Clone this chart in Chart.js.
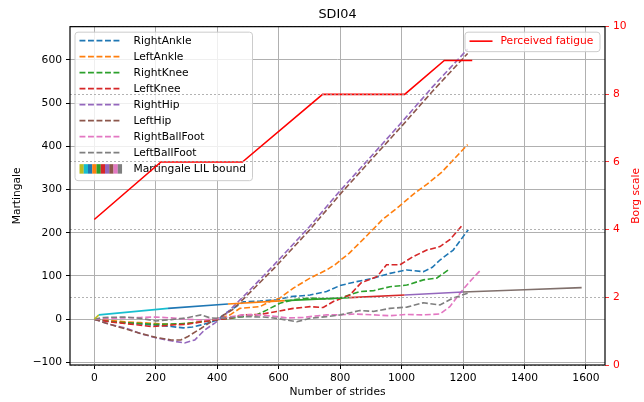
<!DOCTYPE html>
<html>
<head>
<meta charset="utf-8">
<script src="https://cdn.jsdelivr.net/npm/chart.js@4/dist/chart.umd.min.js"></script>
<style>
  html, body { margin: 0; padding: 0; background: #fff; }
</style>
</head>
<body>
<canvas id="c" width="644" height="402"></canvas>
<script>
// tick labels
const xTicks = [0, 200, 400, 600, 800, 1000, 1200, 1400, 1600];
const martTicks = [-100, 0, 100, 200, 300, 400, 500, 600];
const borgTicks = [0, 2, 4, 6, 8, 10];

// series names (legend order)
const seriesNames = ['RightAnkle', 'LeftAnkle', 'RightKnee', 'LeftKnee', 'RightHip', 'LeftHip', 'RightBallFoot', 'LeftBallFoot'];

// [strides, martingale]
const rightAnkle = [[0,0],[50,-5],[100,-8],[150,-11],[200,-14],[250,-17],[290,-20],[320,-18],[350,-13],[400,-2],[430,15],[452,25],[485,40],[539,42],[594,45],[637,52],[702,56],[756,64],[800,78],[854,87],[908,95],[962,106],[1017,114],[1071,110],[1100,120],[1125,137],[1168,160],[1217,207]];
const leftAnkle = [[0,0],[50,-3],[100,-6],[150,-8],[200,-10],[250,-12],[300,-10],[350,-5],[400,0],[442,10],[474,25],[507,27],[539,29],[572,41],[604,49],[648,72],[702,95],[756,114],[783,126],[830,153],[884,191],[937,230],[992,261],[1040,290],[1082,312],[1129,339],[1170,370],[1215,404]];
const rightKnee = [[0,0],[50,-5],[100,-8],[150,-10],[200,-12],[250,-11],[300,-10],[350,-6],[400,-1],[442,2],[485,6],[528,10],[561,21],[604,37],[648,45],[702,49],[756,47],[800,49],[864,64],[908,66],[962,75],[1017,79],[1071,91],[1114,95],[1152,114]];
const leftKnee = [[0,0],[50,-6],[100,-10],[150,-14],[186,-17],[230,-15],[262,-13],[300,-12],[334,-8],[400,-1],[442,2],[485,10],[539,11],[594,18],[648,25],[702,29],[745,27],[778,41],[832,56],[868,84],[921,99],[951,126],[995,126],[1038,145],[1082,160],[1125,168],[1157,184],[1196,216]];
const rightHip = [[0,0],[50,-12],[100,-20],[150,-33],[200,-43],[250,-50],[294,-55],[327,-48],[359,-25],[392,-9],[420,6],[442,22],[507,68],[588,128],[700,214],[801,298],[900,376],[1002,457],[1100,537],[1215,625]];
const leftHip = [[0,0],[50,-12],[100,-22],[150,-33],[200,-42],[250,-48],[282,-48],[305,-40],[348,-21],[380,-6],[410,5],[450,22],[507,62],[588,120],[700,206],[801,290],[900,368],[1002,448],[1100,527],[1215,615]];
const rightBallFoot = [[0,0],[50,2],[100,3],[150,4],[200,5],[250,3],[300,0],[350,-2],[409,2],[485,10],[539,10],[594,6],[626,3],[680,4],[702,6],[756,10],[800,10],[850,12],[908,10],[962,8],[1017,11],[1071,10],[1125,12],[1157,29],[1190,60],[1222,87],[1255,112]];
const leftBallFoot = [[0,0],[30,4],[100,5],[150,2],[200,-4],[250,-1],[300,3],[348,10],[377,3],[409,2],[485,6],[550,5],[594,2],[626,-2],[659,-6],[702,2],[756,6],[800,10],[864,20],[908,18],[962,25],[1017,28],[1071,38],[1125,33],[1168,49],[1215,60]];

// martingale LIL bound
const lilX = [0, 15, 240, 435, 620, 830, 1010, 1200, 1400, 1586];
const lilY = [0, 10, 25, 35, 43, 50, 56, 63, 68, 73];

// perceived fatigue on Borg scale
const fatigueX = [0, 217, 482, 743, 1010, 1139, 1230];
const fatigueY = [4.3, 6, 6, 8, 8, 9, 9];

const seriesData = [rightAnkle, leftAnkle, rightKnee, leftKnee, rightHip, leftHip, rightBallFoot, leftBallFoot];
const tab = ['#1f77b4', '#ff7f0e', '#2ca02c', '#d62728', '#9467bd', '#8c564b', '#e377c2', '#7f7f7f'];
const lilColors = ['#bcbd22', '#17becf', '#1f77b4', '#ff7f0e', '#2ca02c', '#d62728', '#9467bd', '#80706c', '#80706c'];
const lilPatch = ['#bcbd22', '#17becf', '#1f77b4', '#ff7f0e', '#2ca02c', '#d62728', '#9467bd', '#8c564b', '#e377c2', '#7f7f7f'];

const FS = 10.7;
Chart.defaults.font.family = 'DejaVu Sans';
Chart.defaults.font.size = FS;
Chart.defaults.color = '#000';

const dash = [5.9, 2.6];

const datasets = seriesData.map((d, i) => ({
  label: seriesNames[i],
  data: d.map(p => ({ x: p[0], y: p[1] })),
  borderColor: tab[i],
  borderWidth: 1.6,
  borderDash: dash,
  pointRadius: 0,
  tension: 0,
  yAxisID: 'y',
  order: 10 - i
}));
datasets.push({
  label: 'Martingale LIL bound',
  data: lilX.map((x, i) => ({ x: x, y: lilY[i] })),
  borderColor: '#1f77b4',
  segment: { borderColor: ctx => lilColors[ctx.p0DataIndex] },
  borderWidth: 1.6,
  pointRadius: 0,
  tension: 0,
  yAxisID: 'y',
  order: 1
});
datasets.push({
  label: 'Perceived fatigue',
  data: fatigueX.map((x, i) => ({ x: x, y: fatigueY[i] })),
  borderColor: '#ff0000',
  borderWidth: 1.6,
  pointRadius: 0,
  tension: 0,
  yAxisID: 'y2',
  order: 0
});

function legendBox(ctx, x, y, w, h) {
  ctx.save();
  ctx.beginPath();
  ctx.roundRect(x, y, w, h, 3);
  ctx.fillStyle = 'rgba(255,255,255,0.8)';
  ctx.fill();
  ctx.strokeStyle = '#cccccc';
  ctx.lineWidth = 1;
  ctx.stroke();
  ctx.restore();
}

const decor = {
  id: 'decor',
  beforeDatasetsDraw(chart) {
    const ctx = chart.ctx, a = chart.chartArea;
    const bx = a.left + 5, by = a.top + 5.5;
    legendBox(ctx, bx, by, 177.5, 148.5);
    ctx.save();
    ctx.font = FS + 'px "DejaVu Sans"';
    ctx.textBaseline = 'middle';
    seriesNames.forEach((name, i) => {
      const cy = by + 8.5 + 16 * i;
      ctx.strokeStyle = tab[i];
      ctx.lineWidth = 1.6;
      ctx.setLineDash(dash);
      ctx.beginPath();
      ctx.moveTo(bx + 4.5, cy);
      ctx.lineTo(bx + 47, cy);
      ctx.stroke();
      ctx.fillStyle = '#000';
      ctx.fillText(name, bx + 58.5, cy + 0.5);
    });
    ctx.setLineDash([]);
    const cy = by + 8.5 + 16 * 8;
    lilPatch.forEach((c, k) => {
      ctx.fillStyle = c;
      ctx.fillRect(bx + 4.5 + k * 4.25, cy - 4.5, 4.3, 9.5);
    });
    ctx.fillStyle = '#000';
    ctx.fillText('Martingale LIL bound', bx + 58.5, cy + 0.5);
    ctx.restore();
  },
  afterDatasetsDraw(chart) {
    const ctx = chart.ctx, a = chart.chartArea;
    const bx = a.right - 140, by = a.top + 5.5;
    legendBox(ctx, bx, by, 135, 19.5);
    ctx.save();
    ctx.strokeStyle = '#ff0000';
    ctx.lineWidth = 1.6;
    ctx.beginPath();
    ctx.moveTo(bx + 4.5, by + 9);
    ctx.lineTo(bx + 27.5, by + 9);
    ctx.stroke();
    ctx.font = FS + 'px "DejaVu Sans"';
    ctx.textBaseline = 'middle';
    ctx.fillStyle = '#ff0000';
    ctx.fillText('Perceived fatigue', bx + 35.5, by + 9.5);
    ctx.restore();
  },
  afterDraw(chart) {
    const ctx = chart.ctx, a = chart.chartArea;
    ctx.save();
    ctx.strokeStyle = '#000';
    ctx.lineWidth = 1.2;
    ctx.strokeRect(a.left, a.top, a.right - a.left, a.bottom - a.top);
    ctx.translate(636, (a.top + a.bottom) / 2);
    ctx.rotate(-Math.PI / 2);
    ctx.font = FS + 'px "DejaVu Sans"';
    ctx.fillStyle = '#ff0000';
    ctx.textAlign = 'center';
    ctx.textBaseline = 'middle';
    ctx.fillText('Borg scale', 0, 0);
    ctx.restore();
  }
};

const minus = v => String(v).replace('-', '\u2212');

new Chart(document.getElementById('c'), {
  type: 'line',
  data: { datasets: datasets },
  options: {
    responsive: false,
    animation: false,
    devicePixelRatio: 1,
    layout: { padding: 0 },
    plugins: {
      legend: { display: false },
      tooltip: { enabled: false },
      title: {
        display: true,
        fullSize: false,
        text: 'SDI04',
        color: '#000',
        font: { size: 12.8, weight: 'normal' },
        padding: { top: 7, bottom: 4.3 }
      }
    },
    scales: {
      x: {
        type: 'linear',
        min: -79,
        max: 1662,
        afterBuildTicks: s => { s.ticks = xTicks.map(v => ({ value: v })); },
        afterFit: s => { s.height = 37; },
        ticks: { padding: 3, maxRotation: 0, callback: v => minus(v) },
        grid: { color: '#b0b0b0', lineWidth: 1, tickColor: '#000', tickLength: 4 },
        border: { display: false },
        title: { display: true, text: 'Number of strides', padding: { top: 0, bottom: 3 } }
      },
      y: {
        type: 'linear',
        position: 'left',
        min: -106,
        max: 677,
        afterBuildTicks: s => { s.ticks = martTicks.map(v => ({ value: v })); },
        afterFit: s => { s.width = 70; },
        ticks: { padding: 4, callback: v => minus(v) },
        grid: { color: '#b0b0b0', lineWidth: 1, tickColor: '#000', tickLength: 4 },
        border: { display: false },
        title: { display: true, text: 'Martingale', padding: { top: 11, bottom: 0 } }
      },
      y2: {
        type: 'linear',
        position: 'right',
        min: 0,
        max: 10,
        afterBuildTicks: s => { s.ticks = borgTicks.map(v => ({ value: v })); },
        afterFit: s => { s.width = 39; },
        ticks: { padding: 4, color: '#ff0000' },
        grid: { color: '#a0a0a0', lineWidth: 0.8, tickColor: '#ff0000', tickLength: 4, z: 1 },
        border: { display: false, dash: [2, 2] }
      }
    }
  },
  plugins: [decor]
});
</script>
</body>
</html>
